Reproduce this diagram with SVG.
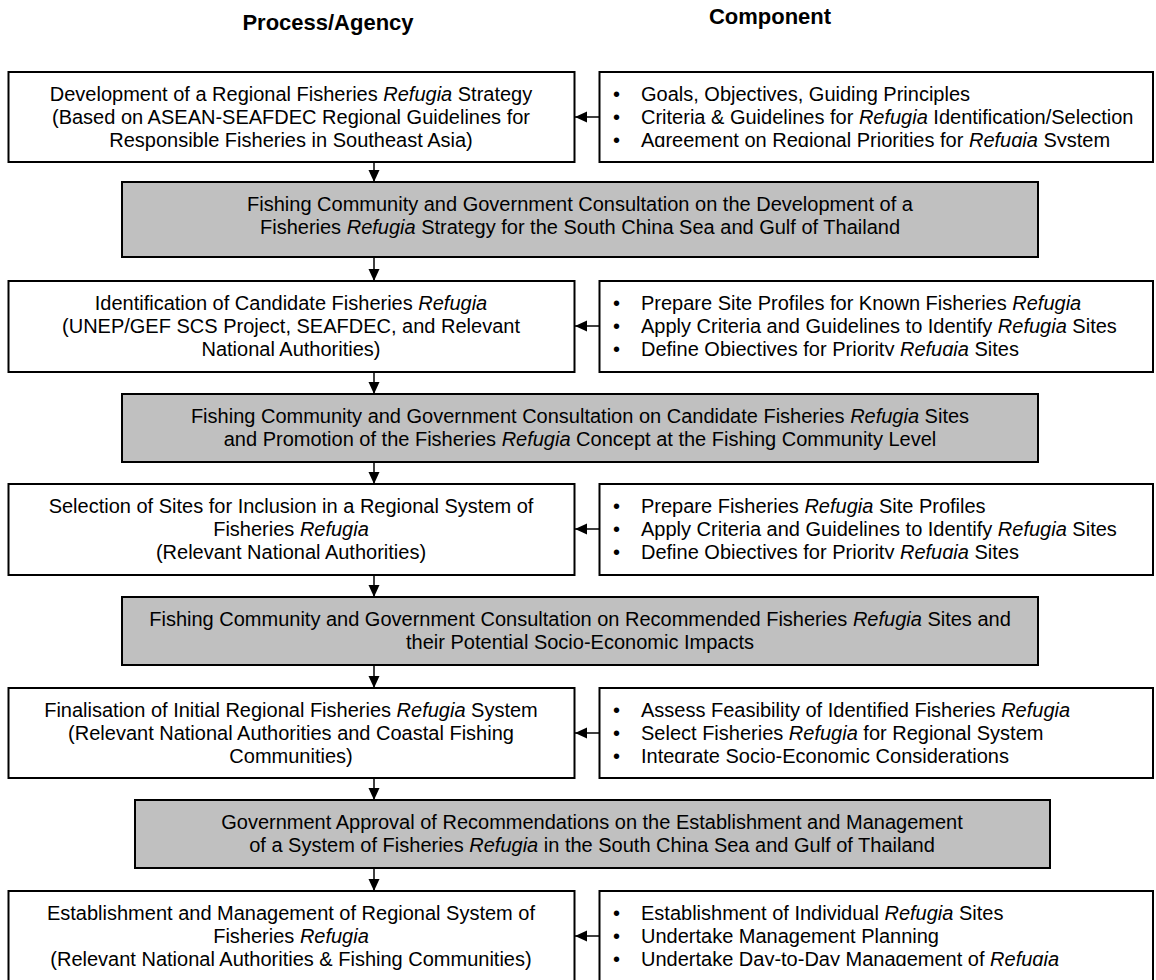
<svg xmlns="http://www.w3.org/2000/svg" width="1156" height="980" viewBox="0 0 1156 980">
<style>
text{font-family:"Liberation Sans",Arial,sans-serif;font-size:20px;fill:#000}
.hd{font-weight:bold;font-size:22px}
.c{text-anchor:middle}
.box{fill:#fff;stroke:#000;stroke-width:2}
.gbox{fill:#c0c0c0;stroke:#000;stroke-width:2}
.con{stroke:#000;stroke-width:1.5;fill:none}
.it{font-style:italic}
</style>
<defs>
<marker id="ah" viewBox="0 0 12 12" refX="12" refY="6" markerWidth="12" markerHeight="12" markerUnits="userSpaceOnUse" orient="auto">
<path d="M0,0.5 L12,6 L0,11.5 Z" fill="#000"/>
</marker>
<clipPath id="c1"><rect x="600" y="73" width="552" height="74"/></clipPath>
<clipPath id="c2"><rect x="600" y="282" width="552" height="74"/></clipPath>
<clipPath id="c3"><rect x="600" y="485" width="552" height="74"/></clipPath>
<clipPath id="c4"><rect x="600" y="689" width="552" height="74"/></clipPath>
<clipPath id="c5"><rect x="600" y="892" width="552" height="74"/></clipPath>
</defs>
<rect width="1156" height="980" fill="#fff"/>

<g id="headers">
<text class="hd c" x="328" y="30">Process/Agency</text>
<text class="hd c" x="770" y="24">Component</text>
</g>

<g id="connectors">
<line class="con" x1="374" y1="162" x2="374" y2="182" marker-end="url(#ah)"/>
<line class="con" x1="374" y1="257" x2="374" y2="281" marker-end="url(#ah)"/>
<line class="con" x1="374" y1="372" x2="374" y2="394" marker-end="url(#ah)"/>
<line class="con" x1="374" y1="462" x2="374" y2="484" marker-end="url(#ah)"/>
<line class="con" x1="374" y1="575" x2="374" y2="597" marker-end="url(#ah)"/>
<line class="con" x1="374" y1="665" x2="374" y2="688" marker-end="url(#ah)"/>
<line class="con" x1="374" y1="778" x2="374" y2="800" marker-end="url(#ah)"/>
<line class="con" x1="374" y1="868" x2="374" y2="891" marker-end="url(#ah)"/>
<line class="con" x1="599" y1="117" x2="575" y2="117" marker-end="url(#ah)"/>
<line class="con" x1="599" y1="326" x2="575" y2="326" marker-end="url(#ah)"/>
<line class="con" x1="599" y1="529" x2="575" y2="529" marker-end="url(#ah)"/>
<line class="con" x1="599" y1="733" x2="575" y2="733" marker-end="url(#ah)"/>
<line class="con" x1="599" y1="936" x2="575" y2="936" marker-end="url(#ah)"/>
</g>

<g id="p1">
<rect class="box" x="8.5" y="72" width="566" height="90"/>
<text class="c" x="291" y="101">Development of a Regional Fisheries <tspan class="it">Refugia</tspan> Strategy</text>
<text class="c" x="291" y="124">(Based on ASEAN-SEAFDEC Regional Guidelines for</text>
<text class="c" x="291" y="147">Responsible Fisheries in Southeast Asia)</text>
</g>
<g id="c1n">
<rect class="box" x="599.5" y="72" width="553.5" height="90"/>
<g clip-path="url(#c1)">
<text x="613" y="101">•</text><text x="641" y="101">Goals, Objectives, Guiding Principles</text>
<text x="613" y="124">•</text><text x="641" y="124">Criteria &amp; Guidelines for <tspan class="it">Refugia</tspan> Identification/Selection</text>
<text x="613" y="147">•</text><text x="641" y="147">Agreement on Regional Priorities for <tspan class="it">Refugia</tspan> System</text>
</g>
</g>
<g id="g1">
<rect class="gbox" x="122" y="182" width="916" height="75"/>
<text class="c" x="580" y="211">Fishing Community and Government Consultation on the Development of a</text>
<text class="c" x="580" y="234">Fisheries <tspan class="it">Refugia</tspan> Strategy for the South China Sea and Gulf of Thailand</text>
</g>

<g id="p2">
<rect class="box" x="8.5" y="281" width="566" height="91"/>
<text class="c" x="291" y="310">Identification of Candidate Fisheries <tspan class="it">Refugia</tspan></text>
<text class="c" x="291" y="333">(UNEP/GEF SCS Project, SEAFDEC, and Relevant</text>
<text class="c" x="291" y="356">National Authorities)</text>
</g>
<g id="c2n">
<rect class="box" x="599.5" y="281" width="553.5" height="91"/>
<g clip-path="url(#c2)">
<text x="613" y="310">•</text><text x="641" y="310">Prepare Site Profiles for Known Fisheries <tspan class="it">Refugia</tspan></text>
<text x="613" y="333">•</text><text x="641" y="333">Apply Criteria and Guidelines to Identify <tspan class="it">Refugia</tspan> Sites</text>
<text x="613" y="356">•</text><text x="641" y="356">Define Objectives for Priority <tspan class="it">Refugia</tspan> Sites</text>
</g>
</g>
<g id="g2">
<rect class="gbox" x="122" y="394" width="916" height="68"/>
<text class="c" x="580" y="423">Fishing Community and Government Consultation on Candidate Fisheries <tspan class="it">Refugia</tspan> Sites</text>
<text class="c" x="580" y="446">and Promotion of the Fisheries <tspan class="it">Refugia</tspan> Concept at the Fishing Community Level</text>
</g>

<g id="p3">
<rect class="box" x="8.5" y="484" width="566" height="91"/>
<text class="c" x="291" y="513">Selection of Sites for Inclusion in a Regional System of</text>
<text class="c" x="291" y="536">Fisheries <tspan class="it">Refugia</tspan></text>
<text class="c" x="291" y="559">(Relevant National Authorities)</text>
</g>
<g id="c3n">
<rect class="box" x="599.5" y="484" width="553.5" height="91"/>
<g clip-path="url(#c3)">
<text x="613" y="513">•</text><text x="641" y="513">Prepare Fisheries <tspan class="it">Refugia</tspan> Site Profiles</text>
<text x="613" y="536">•</text><text x="641" y="536">Apply Criteria and Guidelines to Identify <tspan class="it">Refugia</tspan> Sites</text>
<text x="613" y="559">•</text><text x="641" y="559">Define Objectives for Priority <tspan class="it">Refugia</tspan> Sites</text>
</g>
</g>
<g id="g3">
<rect class="gbox" x="122" y="597" width="916" height="68"/>
<text class="c" x="580" y="626">Fishing Community and Government Consultation on Recommended Fisheries <tspan class="it">Refugia</tspan> Sites and</text>
<text class="c" x="580" y="649">their Potential Socio-Economic Impacts</text>
</g>

<g id="p4">
<rect class="box" x="8.5" y="688" width="566" height="90"/>
<text class="c" x="291" y="717">Finalisation of Initial Regional Fisheries <tspan class="it">Refugia</tspan> System</text>
<text class="c" x="291" y="740">(Relevant National Authorities and Coastal Fishing</text>
<text class="c" x="291" y="763">Communities)</text>
</g>
<g id="c4n">
<rect class="box" x="599.5" y="688" width="553.5" height="90"/>
<g clip-path="url(#c4)">
<text x="613" y="717">•</text><text x="641" y="717">Assess Feasibility of Identified Fisheries <tspan class="it">Refugia</tspan></text>
<text x="613" y="740">•</text><text x="641" y="740">Select Fisheries <tspan class="it">Refugia</tspan> for Regional System</text>
<text x="613" y="763">•</text><text x="641" y="763">Integrate Socio-Economic Considerations</text>
</g>
</g>
<g id="g4">
<rect class="gbox" x="135" y="800" width="915" height="68"/>
<text class="c" x="592" y="829">Government Approval of Recommendations on the Establishment and Management</text>
<text class="c" x="592" y="852">of a System of Fisheries <tspan class="it">Refugia</tspan> in the South China Sea and Gulf of Thailand</text>
</g>

<g id="p5">
<rect class="box" x="8.5" y="891" width="566" height="100"/>
<text class="c" x="291" y="920">Establishment and Management of Regional System of</text>
<text class="c" x="291" y="943">Fisheries <tspan class="it">Refugia</tspan></text>
<text class="c" x="291" y="966">(Relevant National Authorities &amp; Fishing Communities)</text>
</g>
<g id="c5n">
<rect class="box" x="599.5" y="891" width="553.5" height="100"/>
<g clip-path="url(#c5)">
<text x="613" y="920">•</text><text x="641" y="920">Establishment of Individual <tspan class="it">Refugia</tspan> Sites</text>
<text x="613" y="943">•</text><text x="641" y="943">Undertake Management Planning</text>
<text x="613" y="966">•</text><text x="641" y="966">Undertake Day-to-Day Management of <tspan class="it">Refugia</tspan></text>
</g>
</g>
</svg>
